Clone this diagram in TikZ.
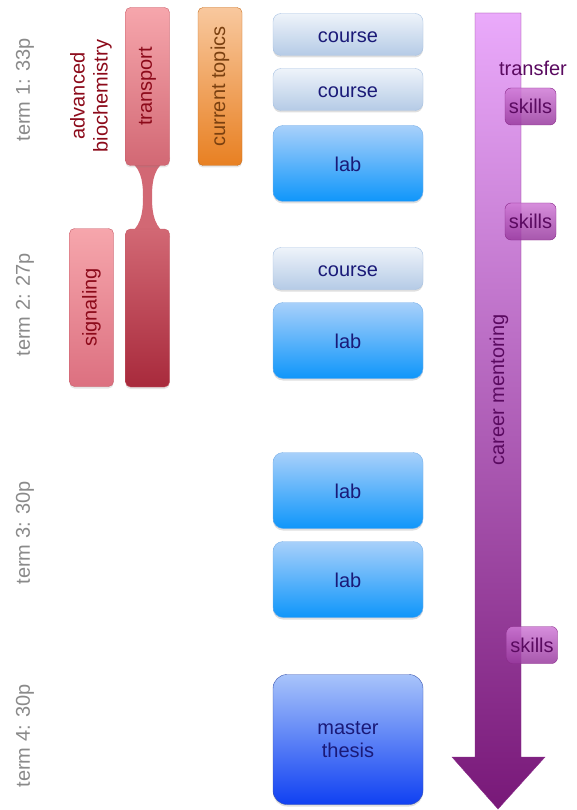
\documentclass[tikz,border=0pt]{standalone}
\usepackage{fontspec}
\setmainfont{Liberation Sans}
\usepackage{tikz}
\usetikzlibrary{shadows, backgrounds}
\definecolor{TermGray}{HTML}{8A8A8A}
\definecolor{NavyText}{HTML}{1A1A78}
\definecolor{CourseTop}{HTML}{EEF3FA}
\definecolor{CourseBottom}{HTML}{B5CBE6}
\definecolor{CourseEdge}{HTML}{A9C3E3}
\definecolor{LabTop}{HTML}{A8D0FA}
\definecolor{LabBottom}{HTML}{0F96FA}
\definecolor{LabEdge}{HTML}{7AB0E8}
\definecolor{ThesisTop}{HTML}{A8C4FA}
\definecolor{ThesisBottom}{HTML}{1040F2}
\definecolor{ThesisEdge}{HTML}{3A55B0}
\definecolor{BioRed}{HTML}{8C0A1A}
\definecolor{TransTop}{HTML}{F6A6AC}
\definecolor{TransMid}{HTML}{D26874}
\definecolor{TransBottom}{HTML}{A82A3C}
\definecolor{TransEdge}{HTML}{C65A66}
\definecolor{SignalBottom}{HTML}{DC7080}
\definecolor{TopicTop}{HTML}{F8C89E}
\definecolor{TopicBottom}{HTML}{E88022}
\definecolor{TopicEdge}{HTML}{C87020}
\definecolor{TopicText}{HTML}{7A4010}
\definecolor{MentorTop}{HTML}{EAAAFB}
\definecolor{MentorBottom}{HTML}{781878}
\definecolor{MentorEdge}{HTML}{8A2A8A}
\definecolor{MentorText}{HTML}{5A0A60}
\definecolor{SkillTop}{HTML}{CF7AD6}
\definecolor{SkillBottom}{HTML}{983A9E}
\newcommand{\boxfont}{\fontsize{20}{23}\selectfont}
\tikzset{
  % Label styles
  termlabel/.style={rotate=90, text=TermGray, font=\boxfont},
  % Box styles
  basebox/.style={rectangle, minimum width=150pt, text=NavyText, font=\boxfont, drop shadow={shadow xshift=0pt, shadow yshift=-2pt, opacity=0.25}},
  coursebox/.style={basebox, rounded corners=8pt, draw=CourseEdge, top color=CourseTop, bottom color=CourseBottom, minimum height=42pt, text height=16pt, text depth=0pt},
  labbox/.style={coursebox, rounded corners=10pt, draw=LabEdge, top color=LabTop, bottom color=LabBottom, minimum height=76pt},
  thesisbox/.style={basebox, rounded corners=14pt, draw=ThesisEdge, top color=ThesisTop, bottom color=ThesisBottom, minimum height=130pt, align=center},
  modulebox/.style={rectangle, rotate=90, rounded corners=5pt, minimum width=158pt, minimum height=44pt, font=\boxfont, drop shadow={shadow xshift=0pt, shadow yshift=-2pt, opacity=0.2}},
  redbox/.style={modulebox, draw=TransEdge, top color=TransTop, bottom color=TransMid, text=BioRed},
  skillbox/.style={rectangle, rounded corners=6pt, draw=MentorEdge, top color=SkillTop, bottom color=SkillBottom, fill opacity=0.85, text opacity=1, minimum width=51pt, minimum height=37pt, inner sep=1pt, text=MentorText, font=\boxfont}
}

\begin{document}
\begin{tikzpicture}[x=1pt, y=-1pt]
  \useasboundingbox (0,0) rectangle (576,810);

  % Terms
  \node[termlabel] (term1) at (25,90) {term 1: 33p};
  \node[termlabel] (term2) at (25,305) {term 2: 27p};
  \node[termlabel] (term3) at (25,533) {term 3: 30p};
  \node[termlabel] (term4) at (25,736) {term 4: 30p};

  % Advanced biochemistry
  \node[rotate=90, align=center, text=BioRed, font=\boxfont] (biochem) at (91,96) {advanced\\biochemistry};
  \node[redbox] (transA) at (147.5,86.5) {transport};
  \node[redbox, top color=TransMid, bottom color=TransBottom] (transB) at (147.5,308) {};
  \node[redbox, bottom color=SignalBottom] (signal) at (91.5,307.5) {signaling};
  \node[modulebox, draw=TopicEdge, top color=TopicTop, bottom color=TopicBottom, text=TopicText] (topics) at (220,86.5) {current topics};

  % Neck between the transport boxes
  \begin{scope}[on background layer]
    \fill[TransMid] (125,158) .. controls (141,166) and (143,180) .. (143,197) .. controls (143,214) and (141,228) .. (125,237) -- (170,237) .. controls (154,228) and (152,214) .. (152,197) .. controls (152,180) and (154,166) .. (170,158) -- cycle;
  \end{scope}

  % Courses and labs
  \node[coursebox] (course1) at (348,34.5) {course};
  \node[coursebox] (course2) at (348,89.5) {course};
  \node[labbox] (lab1) at (348,163.5) {lab};
  \node[coursebox] (course3) at (348,268.5) {course};
  \node[labbox] (lab2) at (348,340.5) {lab};
  \node[labbox] (lab3) at (348,490.5) {lab};
  \node[labbox] (lab4) at (348,579.5) {lab};
  \node[thesisbox] (thesis) at (348,739.5) {master\\thesis};

  % Career mentoring arrow
  \draw[MentorEdge, top color=MentorTop, bottom color=MentorBottom] (475,13) -- (521,13) -- (521,757) -- (545,757) -- (498,809) -- (452,757) -- (475,757) -- cycle;
  \node[rotate=90, text=MentorText, font=\boxfont] (mentor) at (499,390) {career mentoring};
  \node[text=MentorText, font=\boxfont] (transfer) at (533,68) {transfer};

  % Skills
  \node[skillbox] (skills1) at (530.5,106.5) {skills};
  \node[skillbox] (skills2) at (530.5,221.5) {skills};
  \node[skillbox] (skills3) at (532,645) {skills};
\end{tikzpicture}
\end{document}
